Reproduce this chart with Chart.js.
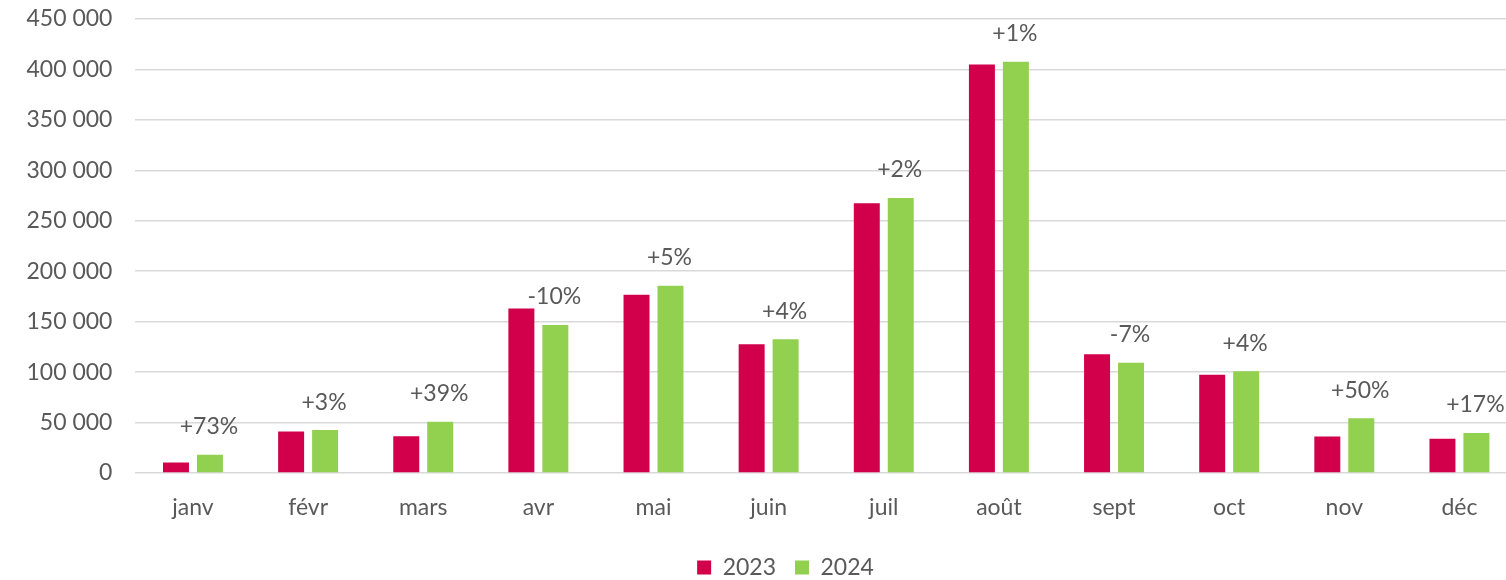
<!DOCTYPE html>
<html>
<head>
<meta charset="utf-8">
<script src="https://cdn.jsdelivr.net/npm/chart.js@4"></script>
<style>
  html, body { margin: 0; padding: 0; background: #fff; overflow: hidden; }
  #wrap { width: 1506px; height: 580px; overflow: hidden; position: relative; }
  canvas { display: block; }
</style>
</head>
<body>
<div id="wrap"><canvas id="c" width="1520" height="589"></canvas></div>
<script>
const months = ['janv', 'févr', 'mars', 'avr', 'mai', 'juin', 'juil', 'août', 'sept', 'oct', 'nov', 'déc'];
const values2023 = [10500, 41200, 36500, 163000, 176700, 127500, 267400, 405000, 117800, 97300, 36200, 34000];
const values2024 = [18200, 42500, 50700, 146700, 185500, 132600, 272700, 407700, 109300, 100800, 54300, 39700];
const changeLabels = ['+73%', '+3%', '+39%', '-10%', '+5%', '+4%', '+2%', '+1%', '-7%', '+4%', '+50%', '+17%'];
const yTicks = [0, 50000, 100000, 150000, 200000, 250000, 300000, 350000, 400000, 450000];

const textColor = '#595959';
const fontFamily = 'Lato, "Open Sans", sans-serif';
const fontSize = 23;

function fmt(v) {
  return String(v).replace(/\B(?=(\d{3})+(?!\d))/g, ' ');
}

const changeLabelPlugin = {
  id: 'changeLabels',
  afterDatasetsDraw(chart) {
    const ctx = chart.ctx;
    const meta = chart.getDatasetMeta(1);
    ctx.save();
    ctx.font = fontSize + 'px ' + fontFamily;
    ctx.fillStyle = textColor;
    ctx.textAlign = 'center';
    ctx.textBaseline = 'middle';
    meta.data.forEach((el, i) => {
      ctx.fillText(changeLabels[i], el.x - 1, el.y - 28);
    });
    ctx.restore();
  }
};

const legendShiftPlugin = {
  id: 'legendShift',
  afterLayout(chart) {
    const lg = chart.legend;
    if (lg) { lg.left += 19; lg.right += 19; }
  }
};

new Chart(document.getElementById('c'), {
  type: 'bar',
  data: {
    labels: months,
    datasets: [
      { label: '2023', data: values2023, backgroundColor: '#d2004b', borderWidth: 0,
        categoryPercentage: 0.59, barPercentage: 0.765 },
      { label: '2024', data: values2024, backgroundColor: '#92d050', borderWidth: 0,
        categoryPercentage: 0.59, barPercentage: 0.765 }
    ]
  },
  options: {
    responsive: false,
    animation: false,
    layout: { padding: { top: 19, left: 16, right: 3, bottom: 0 } },
    scales: {
      x: {
        grid: { display: false, drawTicks: false },
        border: { display: false },
        ticks: { color: textColor, font: { family: fontFamily, size: fontSize }, padding: 21, maxRotation: 0 },
        afterFit(scale) { scale.height = 64; scale.paddingLeft = 0; scale.paddingRight = 0; }
      },
      y: {
        min: 0,
        max: 450000,
        afterBuildTicks(scale) { scale.ticks = yTicks.map(v => ({ value: v })); },
        grid: { color: '#d9d9d9', lineWidth: 1.6, drawTicks: false },
        border: { display: false },
        ticks: {
          color: textColor,
          font: { family: fontFamily, size: fontSize },
          padding: 23,
          callback: (v) => fmt(v)
        },
        afterFit(scale) { scale.width = 119.4; scale.paddingTop = 0; scale.paddingBottom = 0; }
      }
    },
    plugins: {
      legend: {
        position: 'bottom',
        labels: {
          color: textColor,
          font: { family: fontFamily, size: fontSize },
          boxWidth: 14,
          boxHeight: 14,
          padding: 19
        }
      },
      tooltip: { enabled: false }
    }
  },
  plugins: [changeLabelPlugin, legendShiftPlugin]
});
</script>
</body>
</html>
